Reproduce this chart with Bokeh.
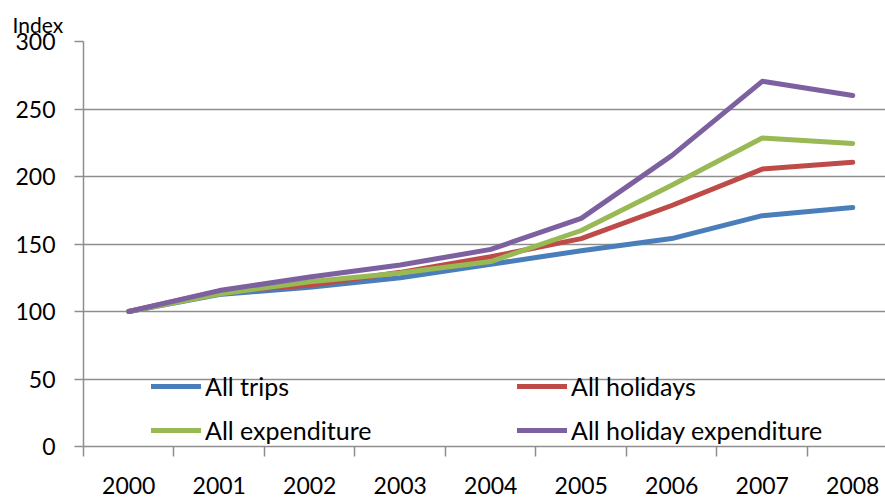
from bokeh.plotting import figure
from bokeh.models import FixedTicker, Legend, LegendItem, Title
from bokeh.embed import file_html
from bokeh.resources import INLINE

years = [2000, 2001, 2002, 2003, 2004, 2005, 2006, 2007, 2008]
year_labels = ["2000", "2001", "2002", "2003", "2004", "2005", "2006", "2007", "2008"]
all_trips = [100, 112.5, 118, 125, 135, 145, 154, 171, 177]
all_holidays = [100, 115, 119.5, 129, 140.5, 154, 178.5, 205.5, 210.5]
all_expenditure = [100, 113, 122, 128.5, 137, 160, 193.5, 228.5, 224.5]
all_holiday_expenditure = [100, 115.5, 125.5, 134.5, 146, 169, 215.5, 270.5, 260]
y_ticks = [0, 50, 100, 150, 200, 250, 300]

series = [
    ("All trips", all_trips, "#4A7EBB"),
    ("All holidays", all_holidays, "#BE4B48"),
    ("All expenditure", all_expenditure, "#98B954"),
    ("All holiday expenditure", all_holiday_expenditure, "#7D60A0"),
]

FONT = "Lato"
GRID = "#8E8E8E"
FS = "23px"

p = figure(width=885, height=499, x_range=(1999.5, 2008.362), y_range=(0, 300),
           output_backend="svg", toolbar_location=None,
           min_border_left=83, min_border_top=41, min_border_bottom=53, min_border_right=0)
p.outline_line_color = None
p.background_fill_color = "white"
p.border_fill_color = "white"

# y axis
p.yaxis.ticker = FixedTicker(ticks=y_ticks)
p.yaxis.axis_line_color = GRID
p.yaxis.axis_line_width = 1.5
p.yaxis.major_tick_line_color = GRID
p.yaxis.major_tick_line_width = 1.5
p.yaxis.major_tick_out = 9
p.yaxis.major_tick_in = 0
p.yaxis.minor_tick_line_color = None
p.yaxis.major_label_standoff = 19
p.yaxis.major_label_text_font = FONT
p.yaxis.major_label_text_font_size = FS
p.yaxis.major_label_text_color = "black"

# x axis: labels at category centers, ticks at category boundaries
boundaries = [y - 0.5 for y in years] + [years[-1] + 0.5]
p.xaxis.ticker = FixedTicker(ticks=years, minor_ticks=boundaries)
p.xaxis.major_label_overrides = {y: l for y, l in zip(years, year_labels)}
p.xaxis.axis_line_color = GRID
p.xaxis.axis_line_width = 1.5
p.xaxis.major_tick_line_color = None
p.xaxis.major_tick_out = 0
p.xaxis.major_tick_in = 0
p.xaxis.minor_tick_line_color = GRID
p.xaxis.minor_tick_line_width = 1.5
p.xaxis.minor_tick_out = 10
p.xaxis.minor_tick_in = 0
p.xaxis.major_label_standoff = 20
p.xaxis.major_label_text_font = FONT
p.xaxis.major_label_text_font_size = FS
p.xaxis.major_label_text_color = "black"

p.xgrid.grid_line_color = None
p.ygrid.ticker = FixedTicker(ticks=y_ticks)
p.ygrid.grid_line_color = GRID
p.ygrid.grid_line_width = 1.5

items = []
for name, vals, color in series:
    r = p.line(years, vals, line_color=color, line_width=5,
               line_cap="round", line_join="round")
    items.append(LegendItem(label=name, renderers=[r]))

legend = Legend(items=items, location=(68, 1), orientation="horizontal", ncols=2,
                label_text_font=FONT, label_text_font_size="25px",
                label_text_color="black",
                glyph_width=50, glyph_height=24, label_height=24,
                label_width=298, label_standoff=4, spacing=14,
                padding=0, margin=0, border_line_color=None,
                background_fill_alpha=0)
p.add_layout(legend, "center")

p.add_layout(Title(text="Index", align="left", offset=-71, standoff=10,
                   vertical_align="bottom",
                   text_font=FONT, text_font_size="21px", text_font_style="normal",
                   text_color="black"), "above")

open("out.html", "w").write(file_html(p, INLINE))
